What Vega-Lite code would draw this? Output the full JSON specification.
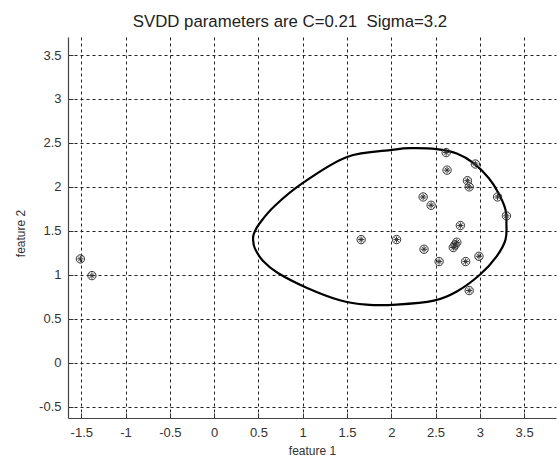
{
  "$schema": "https://vega.github.io/schema/vega-lite/v6.json",
  "width": 488,
  "height": 381,
  "autosize": {"type": "none"},
  "padding": {"left": 68, "top": 37, "right": 4, "bottom": 38},
  "background": "white",
  "config": {
    "view": {"stroke": null},
    "font": "Liberation Sans",
    "axis": {
      "domainColor": "#444",
      "domainWidth": 1.2,
      "tickColor": "#333",
      "tickSize": -5,
      "tickWidth": 1,
      "labelFont": "Liberation Sans",
      "labelFontSize": 13,
      "labelColor": "#333",
      "titleFont": "Liberation Sans",
      "titleFontSize": 12,
      "titleFontWeight": "normal",
      "titleColor": "#333",
      "grid": true,
      "gridColor": "#222",
      "gridDash": [3, 3],
      "gridWidth": 1,
      "gridOpacity": 1
    }
  },
  "title": {
    "text": "SVDD parameters are C=0.21\u00a0\u00a0Sigma=3.2",
    "font": "Liberation Sans",
    "fontSize": 16.8,
    "fontWeight": "normal",
    "color": "#222",
    "anchor": "middle",
    "dx": -22,
    "offset": 6
  },
  "datasets": {
    "pts": [
      {"x": 2.62, "y": 2.39}, {"x": 2.95, "y": 2.26}, {"x": 2.63, "y": 2.19},
      {"x": 2.86, "y": 2.07}, {"x": 2.88, "y": 2.0}, {"x": 2.36, "y": 1.885},
      {"x": 2.45, "y": 1.79}, {"x": 3.2, "y": 1.885}, {"x": 3.3, "y": 1.67},
      {"x": 2.78, "y": 1.56}, {"x": 1.66, "y": 1.4}, {"x": 2.06, "y": 1.4},
      {"x": 2.37, "y": 1.29}, {"x": 2.74, "y": 1.37}, {"x": 2.7, "y": 1.31},
      {"x": 2.72, "y": 1.34}, {"x": 2.99, "y": 1.21}, {"x": 2.54, "y": 1.15},
      {"x": 2.84, "y": 1.15}, {"x": 2.88, "y": 0.82}, {"x": -1.51, "y": 1.18},
      {"x": -1.38, "y": 0.99}
    ],
    "curve": [
      {"i": 0, "x": 2.21, "y": 2.44}, {"i": 1, "x": 2.01, "y": 2.42},
      {"i": 2, "x": 1.5, "y": 2.34}, {"i": 3, "x": 1.01, "y": 2.05},
      {"i": 4, "x": 0.68, "y": 1.78}, {"i": 5, "x": 0.51, "y": 1.58},
      {"i": 6, "x": 0.45, "y": 1.47}, {"i": 7, "x": 0.44, "y": 1.40},
      {"i": 8, "x": 0.46, "y": 1.3}, {"i": 9, "x": 0.55, "y": 1.16},
      {"i": 10, "x": 0.72, "y": 1.02}, {"i": 11, "x": 1.05, "y": 0.85},
      {"i": 12, "x": 1.42, "y": 0.71}, {"i": 13, "x": 1.72, "y": 0.66},
      {"i": 14, "x": 2.06, "y": 0.66}, {"i": 15, "x": 2.48, "y": 0.705},
      {"i": 16, "x": 2.74, "y": 0.81}, {"i": 17, "x": 3.0, "y": 1.0},
      {"i": 18, "x": 3.19, "y": 1.21}, {"i": 19, "x": 3.29, "y": 1.4},
      {"i": 20, "x": 3.3, "y": 1.585}, {"i": 21, "x": 3.29, "y": 1.74},
      {"i": 22, "x": 3.21, "y": 1.93}, {"i": 23, "x": 3.1, "y": 2.1},
      {"i": 24, "x": 2.93, "y": 2.27}, {"i": 25, "x": 2.74, "y": 2.38},
      {"i": 26, "x": 2.51, "y": 2.43}
    ]
  },
  "encoding": {
    "x": {
      "field": "x", "type": "quantitative",
      "scale": {"domain": [-1.65, 3.86], "nice": false, "zero": false},
      "axis": {"title": "feature 1", "values": [-1.5, -1, -0.5, 0, 0.5, 1, 1.5, 2, 2.5, 3, 3.5], "labelExpr": "'' + datum.value", "labelPadding": 13, "titlePadding": 6, "labelFlush": false}
    },
    "y": {
      "field": "y", "type": "quantitative",
      "scale": {"domain": [-0.63, 3.705], "nice": false, "zero": false},
      "axis": {"title": "feature 2", "values": [-0.5, 0, 0.5, 1, 1.5, 2, 2.5, 3, 3.5], "labelExpr": "'' + datum.value", "labelPadding": 12, "titleX": -41, "titleY": 196, "labelFlush": false}
    }
  },
  "layer": [
    {
      "data": {"name": "curve"},
      "mark": {"type": "line", "color": "#000", "strokeWidth": 2.2, "interpolate": "cardinal-closed"},
      "encoding": {"order": {"field": "i", "type": "quantitative"}}
    },
    {
      "data": {"name": "pts"},
      "mark": {
        "type": "point",
        "shape": "M1,0A1,1,0,1,1,-1,0A1,1,0,1,1,1,0ZM-0.75,0L0.75,0M0,-0.75L0,0.75M-0.53,-0.53L0.53,0.53M-0.53,0.53L0.53,-0.53",
        "size": 70,
        "filled": false,
        "stroke": "#333",
        "strokeWidth": 1,
        "opacity": 1
      }
    }
  ]
}
